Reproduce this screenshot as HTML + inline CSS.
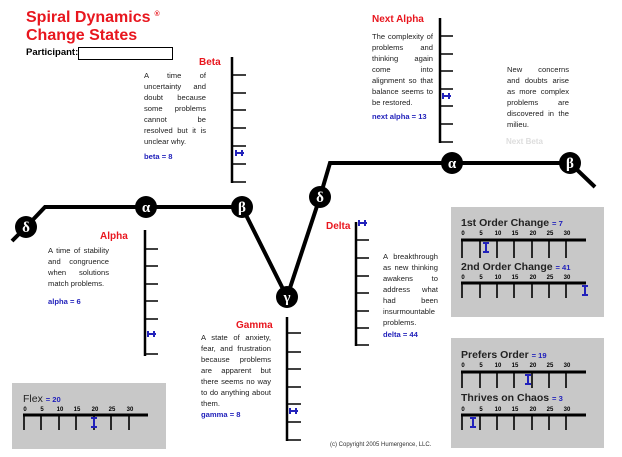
<!DOCTYPE html>
<html><head><meta charset="utf-8"><style>
body{margin:0;width:622px;height:457px;background:#fff;position:relative;overflow:hidden;font-family:"Liberation Sans",Arial,sans-serif}
.a{position:absolute}
.t{position:absolute;font-size:7.6px;line-height:11px;color:#222;text-align:justify;text-align-last:left}
.r{color:#e8161e;font-weight:bold;font-size:10px;position:absolute}
.v{color:#2222bb;font-weight:bold;font-size:7.6px;position:absolute}
.box{position:absolute;background:#c8c8c8}
</style></head><body>
<div class="a" style="left:26px;top:9px;color:#e8161e;font-weight:bold;font-size:16px;line-height:18px">Spiral Dynamics<sup style="font-size:7px;vertical-align:top;position:relative;top:-3px;left:4px">®</sup><br>Change States</div>
<div class="a" style="left:26px;top:47px;font-weight:bold;font-size:9.5px">Participant:</div>
<div class="a" style="left:78px;top:47px;width:93px;height:11px;border:1.5px solid #000"></div>

<div class="box" style="left:451px;top:207px;width:153px;height:110px"></div>
<div class="box" style="left:451px;top:338px;width:153px;height:110px"></div>
<div class="box" style="left:12px;top:383px;width:154px;height:66px"></div>

<svg class="a" style="left:0;top:0" width="622" height="457">
<g stroke="#000" stroke-width="4" fill="none">
<polyline points="12,241 26,227 45,207 242,207 287,297 320,197 330,163 570,163 595,187"/>
</g>
<g fill="#000">
<circle cx="26" cy="227" r="11"/><circle cx="146" cy="207" r="11"/><circle cx="242" cy="207" r="11"/>
<circle cx="287" cy="297" r="11"/><circle cx="320" cy="197" r="11"/><circle cx="452" cy="163" r="11"/><circle cx="570" cy="163" r="11"/>
</g>
<g fill="#fff" font-family="Liberation Serif,serif" font-size="15" font-weight="bold" text-anchor="middle">
<text x="26" y="232">δ</text><text x="146" y="212">α</text><text x="242" y="212">β</text>
<text x="287" y="302">γ</text><text x="320" y="202">δ</text><text x="452" y="168">α</text><text x="570" y="168">β</text>
</g>
<!-- vertical scales -->
<g stroke="#000" stroke-width="2.5">
<line x1="232" y1="57" x2="232" y2="183"/>
<line x1="145" y1="230" x2="145" y2="356"/>
<line x1="287" y1="317" x2="287" y2="441"/>
<line x1="356" y1="222" x2="356" y2="346"/>
<line x1="440" y1="18" x2="440" y2="143"/>
</g>
<g stroke="#000" stroke-width="1.5">
<path d="M232 75h14M232 93h14M232 110h14M232 128h14M232 146h14M232 164h14M232 182h14"/>
<path d="M145 249h13M145 266h13M145 284h13M145 301h13M145 319h13M145 354h13"/>
<path d="M287 333h14M287 352h14M287 369h14M287 387h14M287 404h14M287 422h14M287 440h14"/>
<path d="M356 240h13M356 258h13M356 276h13M356 293h13M356 311h13M356 328h13M356 345h13"/>
<path d="M440 36h13M440 54h13M440 71h13M440 89h13M440 106h13M440 124h13M440 142h13"/>
</g>
<g stroke="#2222bb" stroke-width="2" fill="#2222bb">
<path d="M236 153h8M236 150v6M242 150v6"/>
<path d="M148 334h8M148 331v6M154 331v6"/>
<path d="M290 411h8M290 408v6M296 408v6"/>
<path d="M359 223h8M359 220v6M365 220v6"/>
<path d="M443 96h8M443 93v6M449 93v6"/>
</g>
<!-- horizontal rulers -->
<g stroke="#000">
<path stroke-width="3" d="M461 240h125M461 283h125M461 372h125M461 415h125M23 415h125"/>
<path stroke-width="1.6" d="M462 240v18M480 240v18M497 240v18M514 240v18M532 240v18M549 240v18M566 240v18
M462 283v15M480 283v15M497 283v15M514 283v15M532 283v15M549 283v15M566 283v15
M462 372v16M480 372v16M497 372v16M514 372v16M532 372v16M549 372v16M566 372v16
M462 415v15M480 415v15M497 415v15M514 415v15M532 415v15M549 415v15M566 415v15
M24 415v15M41 415v15M59 415v15M76 415v15M94 415v15M111 415v15M129 415v15"/>
</g>
<g stroke="#2222bb" stroke-width="2">
<path d="M486 243v9M483 243h6M483 252h6"/>
<path d="M585 286v9M582 286h6M582 295h6"/>
<path d="M528 375v9M525 375h6M525 384h6"/>
<path d="M473 418v9M470 418h6M470 427h6"/>
<path d="M94 418v9M91 418h6M91 427h6"/>
</g>
<g font-family="Liberation Sans,sans-serif" font-size="6" font-weight="bold" fill="#000" text-anchor="middle">
<text x="463" y="235">0</text><text x="481" y="235">5</text><text x="498" y="235">10</text><text x="515" y="235">15</text><text x="533" y="235">20</text><text x="550" y="235">25</text><text x="567" y="235">30</text>
<text x="463" y="279">0</text><text x="481" y="279">5</text><text x="498" y="279">10</text><text x="515" y="279">15</text><text x="533" y="279">20</text><text x="550" y="279">25</text><text x="567" y="279">30</text>
<text x="463" y="367">0</text><text x="481" y="367">5</text><text x="498" y="367">10</text><text x="515" y="367">15</text><text x="533" y="367">20</text><text x="550" y="367">25</text><text x="567" y="367">30</text>
<text x="463" y="411">0</text><text x="481" y="411">5</text><text x="498" y="411">10</text><text x="515" y="411">15</text><text x="533" y="411">20</text><text x="550" y="411">25</text><text x="567" y="411">30</text>
<text x="25" y="411">0</text><text x="42" y="411">5</text><text x="60" y="411">10</text><text x="77" y="411">15</text><text x="95" y="411">20</text><text x="112" y="411">25</text><text x="130" y="411">30</text>
</g>
</svg>

<div class="a" style="left:461px;top:217px;font-size:10.5px;font-weight:bold;color:#222">1st Order Change <span style="color:#2222bb;font-size:7.6px">= 7</span></div>
<div class="a" style="left:461px;top:261px;font-size:10.5px;font-weight:bold;color:#222">2nd Order Change <span style="color:#2222bb;font-size:7.6px">= 41</span></div>
<div class="a" style="left:461px;top:349px;font-size:10.5px;font-weight:bold;color:#222">Prefers Order <span style="color:#2222bb;font-size:7.6px">= 19</span></div>
<div class="a" style="left:461px;top:392px;font-size:10.5px;font-weight:bold;color:#222">Thrives on Chaos <span style="color:#2222bb;font-size:7.6px">= 3</span></div>
<div class="a" style="left:23px;top:393px;font-size:10.5px;color:#222">Flex <span style="color:#2222bb;font-size:7.6px;font-weight:bold">= 20</span></div>

<div class="r" style="left:199px;top:57px">Beta</div>
<div class="t" style="left:144px;top:70px;width:62px">A time of uncertainty and doubt because some problems cannot be resolved but it is unclear why.</div>
<div class="v" style="left:144px;top:152px">beta = 8</div>

<div class="r" style="left:100px;top:231px">Alpha</div>
<div class="t" style="left:48px;top:245px;width:61px">A time of stability and congruence when solutions match problems.</div>
<div class="v" style="left:48px;top:297px">alpha = 6</div>

<div class="r" style="left:236px;top:320px">Gamma</div>
<div class="t" style="left:201px;top:332px;width:70px">A state of anxiety, fear, and frustration because problems are apparent but there seems no way to do anything about them.</div>
<div class="v" style="left:201px;top:410px">gamma = 8</div>

<div class="r" style="left:326px;top:221px">Delta</div>
<div class="t" style="left:383px;top:251px;width:55px">A breakthrough as new thinking awakens to address what had been insurmountable problems.</div>
<div class="v" style="left:383px;top:330px">delta = 44</div>

<div class="r" style="left:372px;top:14px">Next Alpha</div>
<div class="t" style="left:372px;top:31px;width:61px">The complexity of problems and thinking again come into alignment so that balance seems to be restored.</div>
<div class="v" style="left:372px;top:112px">next alpha = 13</div>

<div class="t" style="left:507px;top:64px;width:62px">New concerns and doubts arise as more complex problems are discovered in the milieu.</div>
<div class="a" style="left:506px;top:137px;font-size:8px;font-weight:bold;color:#ddd">Next Beta</div>

<div class="a" style="left:330px;top:442px;font-size:6px;color:#333">(c) Copyright 2005 Humergence, LLC.</div>
</body></html>
